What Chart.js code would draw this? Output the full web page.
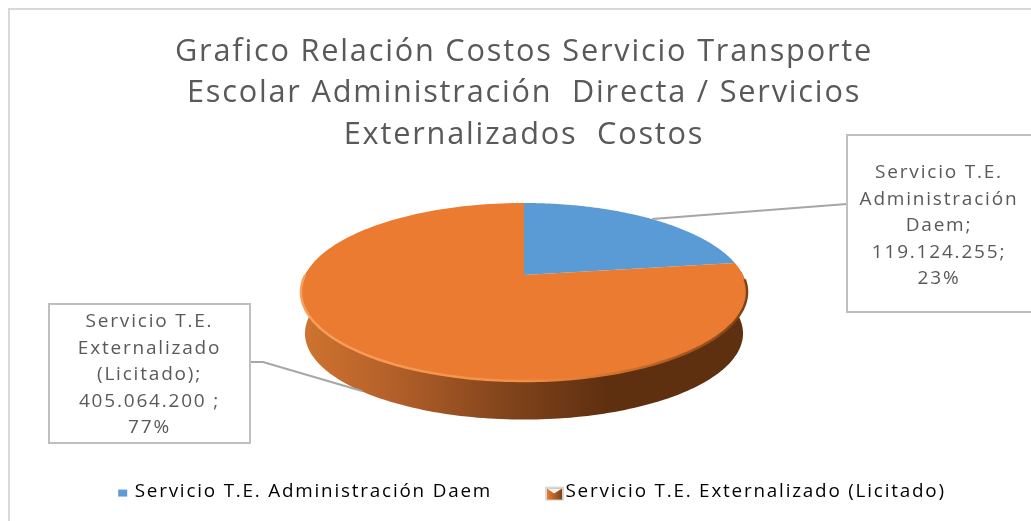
<!DOCTYPE html>
<html>
<head>
<meta charset="utf-8">
<style>
  html, body { margin: 0; padding: 0; background: #fff; overflow: hidden; }
  canvas { display: block; filter: blur(0.4px); }
</style>
<script src="https://cdn.jsdelivr.net/npm/chart.js@4"></script>
</head>
<body>
<canvas id="myChart" width="1031" height="521"></canvas>
<script>
const titleLines = [
    'Grafico Relación Costos Servicio Transporte',
    'Escolar Administración  Directa / Servicios',
    'Externalizados  Costos'
];
const categories = ['Servicio T.E. Administración Daem', 'Servicio T.E. Externalizado (Licitado)'];
const costs = [119124255, 405064200];
const sliceColors = ['#5b9bd5', '#ea7b30'];
const calloutLines = [
    ['Servicio T.E.', 'Administración', 'Daem;', '119.124.255;', '23%'],
    ['Servicio T.E.', 'Externalizado', '(Licitado);', '405.064.200 ;', '77%']
];

const FONT = '"Open Sans", sans-serif';
const GREY_TEXT = '#595959';
const LEGEND_SHIFT = 7;

// perspective pie: unit circle -> screen, k pushes the far side away
const topFace = { cx: 524, cy: 275, rx: 218.9, ry: 85.75, k: 0.191 };
const baseFace = { cx: 524, cy: 317, rx: 215, ry: 83, k: 0.191 };

function project(face, angle) {
    const u = Math.cos(angle), v = Math.sin(angle);
    const w = 1 - face.k * v;
    return [face.cx + face.rx * u / w, face.cy + face.ry * v / w];
}

function tracePath(ctx, face, from, to) {
    const steps = 160;
    for (let i = 0; i <= steps; i++) {
        const p = project(face, from + (to - from) * i / steps);
        ctx.lineTo(p[0], p[1]);
    }
}

const pie3d = {
    id: 'pie3d',
    beforeUpdate(chart) {
        // the picture's text runs wide, chart.js resets the canvas at init so set it here
        chart.ctx.letterSpacing = '1.8px';
    },
    afterLayout(chart) {
        chart.legend.left += LEGEND_SHIFT;
        chart.legend.right += LEGEND_SHIFT;
    },
    beforeDatasetsDraw(chart) {
        const ctx = chart.ctx;
        const arcs = chart.getDatasetMeta(0).data;
        const widest = Math.asin(topFace.k);

        // side wall, only the near half can be seen
        ctx.save();
        const wall = ctx.createLinearGradient(302, 0, 748, 0);
        wall.addColorStop(0, '#cf7430');
        wall.addColorStop(0.2, '#b4602a');
        wall.addColorStop(0.45, '#83451c');
        wall.addColorStop(0.68, '#5f3010');
        wall.addColorStop(1, '#5f3010');
        ctx.fillStyle = wall;
        ctx.beginPath();
        tracePath(ctx, topFace, -0.05, Math.PI + 0.05);
        tracePath(ctx, baseFace, Math.PI + widest, -widest);
        ctx.closePath();
        ctx.fill();

        // top face, angles come from the library's arc elements
        arcs.forEach((arc, i) => {
            const p = arc.getProps(['startAngle', 'endAngle'], true);
            ctx.fillStyle = arc.options.backgroundColor;
            ctx.beginPath();
            ctx.moveTo(topFace.cx, topFace.cy);
            tracePath(ctx, topFace, p.startAngle, p.endAngle);
            ctx.closePath();
            ctx.fill();
        });

        // bevel along the front edge
        const rim = ctx.createLinearGradient(302, 0, 748, 0);
        rim.addColorStop(0, '#f8a05c');
        rim.addColorStop(0.5, '#f68f45');
        rim.addColorStop(0.75, '#c96a28');
        rim.addColorStop(1, '#7a4015');
        ctx.strokeStyle = rim;
        ctx.lineWidth = 2.5;
        ctx.beginPath();
        tracePath(ctx, topFace, 0.05, Math.PI);
        ctx.stroke();
        ctx.restore();
        return false;
    },
    afterDraw(chart) {
        const ctx = chart.ctx;
        ctx.save();

        // leader lines
        ctx.strokeStyle = '#a6a6a6';
        ctx.lineWidth = 2;
        ctx.beginPath();
        ctx.moveTo(847, 204); ctx.lineTo(652, 219);
        ctx.moveTo(250, 362); ctx.lineTo(263, 362); ctx.lineTo(362, 391);
        ctx.stroke();

        // callout boxes
        const boxes = [[847, 135, 200, 177, 939, 173], [49, 304, 201, 139, 149.5, 322]];
        boxes.forEach((b, i) => {
            ctx.fillStyle = '#fff';
            ctx.strokeStyle = '#bfbfbf';
            ctx.lineWidth = 2;
            ctx.fillRect(b[0], b[1], b[2], b[3]);
            ctx.strokeRect(b[0], b[1], b[2], b[3]);
            ctx.fillStyle = GREY_TEXT;
            ctx.font = '19px ' + FONT;
            ctx.textAlign = 'center';
            ctx.textBaseline = 'middle';
            calloutLines[i].forEach((line, n) => {
                ctx.fillText(line, b[4], b[5] + n * 26.4);
            });
        });

        // legend markers, the legend itself leaves them blank
        const hit = chart.legend.legendHitBoxes;
        const y = hit[0].top + hit[0].height / 2;
        ctx.fillStyle = sliceColors[0];
        ctx.fillRect(hit[0].left + 2, y - 2, 9, 7);
        const mx = hit[1].left - 2, my = y - 5;
        ctx.fillStyle = '#d9d9d9';
        ctx.fillRect(mx, my, 19, 14);
        const swatch = ctx.createLinearGradient(mx + 2, 0, mx + 17, 0);
        swatch.addColorStop(0, sliceColors[1]);
        swatch.addColorStop(1, '#7a4318');
        ctx.fillStyle = swatch;
        ctx.fillRect(mx + 2, my + 2, 15, 11);
        ctx.fillStyle = '#f2f2f2';
        ctx.beginPath();
        ctx.moveTo(mx + 2, my + 2); ctx.lineTo(mx + 9, my + 7); ctx.lineTo(mx + 17, my + 2);
        ctx.fill();
        ctx.restore();
    },
    beforeDraw(chart) {
        const ctx = chart.ctx;
        ctx.save();
        ctx.fillStyle = '#fff';
        ctx.fillRect(0, 0, chart.width, chart.height);
        ctx.strokeStyle = '#d9d9d9';
        ctx.lineWidth = 2;
        ctx.strokeRect(9, 9, 1200, 1200);
        ctx.restore();
    }
};

new Chart(document.getElementById('myChart').getContext('2d'), {
    type: 'pie',
    data: {
        labels: categories,
        datasets: [{ data: costs, backgroundColor: sliceColors, borderWidth: 0 }]
    },
    plugins: [pie3d],
    options: {
        responsive: false,
        animation: false,
        layout: { padding: { left: 17, top: 32, bottom: 10 } },
        plugins: {
            tooltip: { enabled: false },
            title: {
                display: true,
                text: titleLines,
                color: GREY_TEXT,
                font: { family: FONT, size: 30.7, weight: 'normal', lineHeight: 1.34 },
                padding: { top: 0, bottom: 0 }
            },
            legend: {
                position: 'bottom',
                labels: {
                    color: GREY_TEXT,
                    font: { family: FONT, size: 18.85 },
                    boxWidth: 9,
                    boxHeight: 7,
                    padding: 55,
                    generateLabels(chart) {
                        return categories.map((name, i) => ({
                            text: name,
                            fillStyle: 'rgba(0,0,0,0)',
                            strokeStyle: 'rgba(0,0,0,0)',
                            lineWidth: 0,
                            index: i
                        }));
                    }
                }
            }
        }
    }
});
</script>
</body>
</html>
